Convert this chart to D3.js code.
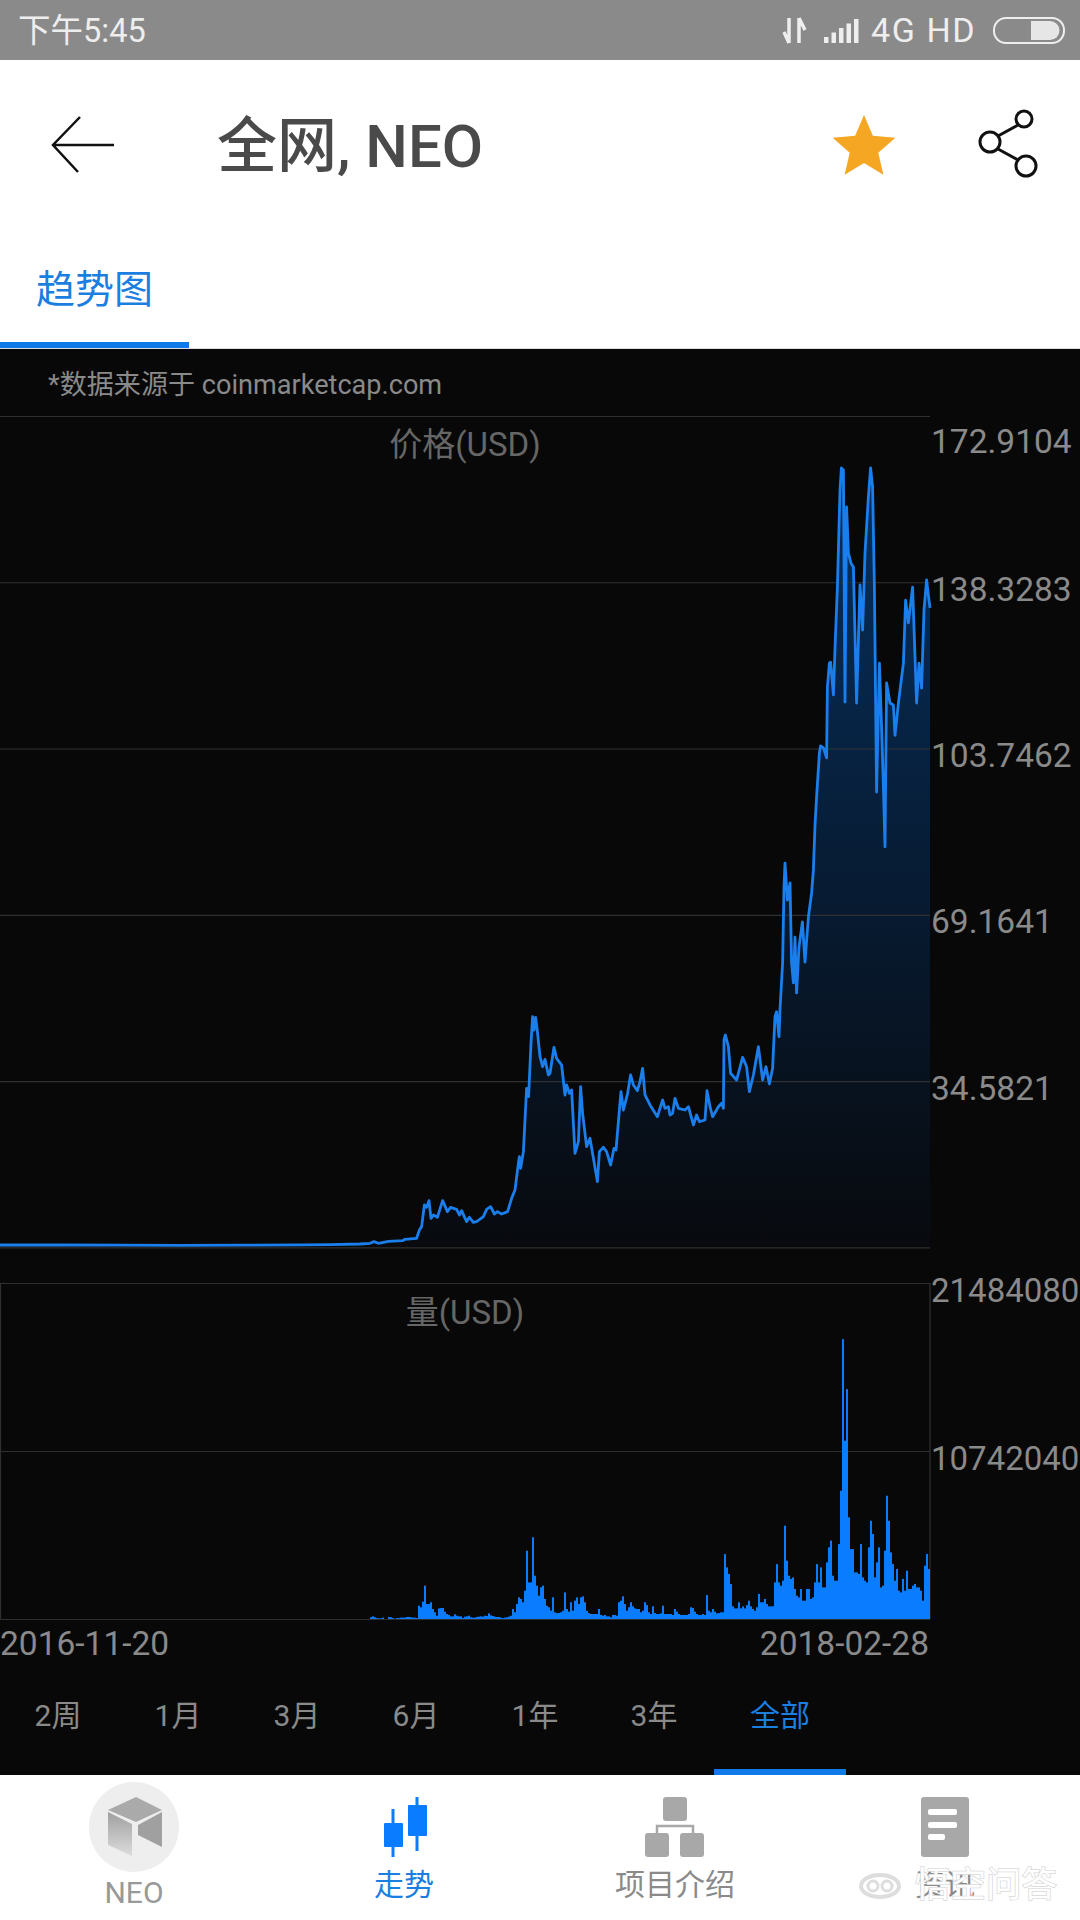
<!DOCTYPE html>
<html lang="zh">
	<head>
		<meta charset="UTF-8" />
		<title>全网, NEO</title>
		<script src="https://d3js.org/d3.v7.min.js"></script>
		<style>
			html,
			body {
				margin: 0;
				padding: 0;
				background: #fff;
			}
			svg {
				display: block;
			}
			text {
				font-family: Roboto, "Noto Sans CJK SC", sans-serif;
			}
		</style>
	</head>
	<body>
		<svg id="app"></svg>

		<script>
			// Data: days since 2016-11-20
			const PRICE_DAYS = [
				0, 30, 60, 90, 120, 150, 165, 180, 185, 187, 189.2, 194.2, 201.3, 202.5, 208.3, 209.7, 210.8, 212.2, 213.3, 214.5,
				215.5, 216.7, 218.7, 221.3, 223.7, 225.3, 228.3, 229.7, 230.8, 233.3, 234.7, 236.7, 238.3, 241.7, 243.3, 245.3,
				247.2, 248.7, 250.8, 253.8, 255.8, 257.5, 259.2, 259.7, 260.3, 261.7, 263.3, 264.3, 265.5, 266.3, 267, 267.8,
				268.7, 270, 271.3, 272.5, 274.2, 275, 277, 278.3, 280.8, 282.5, 283.3, 284.7, 285.8, 287.5, 289.2, 290.3, 291.3,
				293.3, 295, 298.7, 299.7, 301.7, 303.3, 305.3, 307, 308, 309.7, 310.5, 311.7, 313.8, 315.3, 316.7, 318.7, 320,
				321.3, 322.5, 325, 328.7, 331.3, 332.5, 334.2, 335, 336.3, 337.5, 339.2, 342.5, 344.2, 346.7, 348.3, 349.7, 352.5,
				353.5, 355, 356.3, 359.2, 360.8, 361.7, 362, 362.7, 364.2, 365.3, 368.3, 371.3, 373.3, 374.7, 376.7, 379.2, 381.3,
				383, 384.7, 386.3, 387.5, 388.3, 389.5, 390, 391.3, 392, 392.5, 393.7, 395, 395.8, 396.7, 397.5, 398.3, 399.5,
				401.2, 402.5, 404.2, 405.8, 406.7, 407.5, 408.3, 409.7, 410.3, 411.7, 413.3, 413.7, 414.7, 415.3, 416.7, 417.7,
				418.7, 420, 420.7, 421.7, 422.5, 423.3, 424.2, 425.5, 426.7, 428.3, 430, 431.3, 432.5, 434.2, 435.3, 436.3, 437.2,
				438.3, 439.7, 440.8, 441.7, 442.5, 443.3, 445, 446.7, 447.5, 449.2, 451.7, 452.8, 454.2, 456.3, 458.3, 459.5,
				460.8, 462, 463.3, 464.5, 465,
			];
			const PRICE_VALUES = [
				0.48, 0.48, 0.44, 0.42, 0.46, 0.5, 0.55, 0.69, 0.83, 1.18, 0.83, 1.25, 1.38, 1.66, 1.87, 3.6, 4.3, 8.8, 8.32, 9.7,
				6.03, 6.72, 6.24, 9.7, 7.42, 8.32, 7.9, 6.72, 7.62, 5.34, 6.24, 5.2, 5.34, 6.38, 7.9, 8.46,
				6.93, 7.42, 6.93, 7.42, 10.19, 11.92, 17.47, 18.86, 16.43, 19.9, 33.07, 31.33, 42.43, 47.97, 45.2, 47.84,
				44.85, 39.65, 37.57, 39.1, 35.84, 36.19, 41.6, 39.31, 37.92, 31.68, 33.76, 32.03, 32.72, 19.55, 21.97, 33.41, 27.87,
				20.94, 22.67, 13.66, 19.9, 20.8, 19.9, 17.12, 20.59, 20.24, 28.56, 32.37, 28.56, 32.03, 35.84, 33.76, 32.58, 34.45,
				37.23, 31.68, 29.6, 27.17, 30.64, 28.91, 29.25, 27.52, 27.87, 30.99, 28.91, 28.56, 29.25, 25.44, 27.52, 26.13, 26.48,
				32.58, 29.25, 27.17, 29.25, 29.95, 28.91, 43.12, 44.16, 41.73, 36.19, 34.8, 39.52, 37.57, 32.37, 35.84, 41.73, 34.8,
				37.57, 33.97, 37.23, 47.97, 49, 43.81, 49.4, 59.1, 74.9, 79.9, 72.2, 75.8, 59.1, 55, 64.5, 52.9, 62.5,
				67.7, 59.3, 68.7, 73.7, 78.5, 87.8, 93.7, 102.8, 104.3, 103.9, 101.8, 116.5, 121.5, 121.7, 114.9, 126.9,
				137.3, 157.5, 162.1, 161.7, 113.4, 154, 144.4, 142.3, 141.5, 113.2, 137.8, 128.4, 144.4, 156.1, 162.1, 158.1, 137.3,
				94.7, 121.5, 108.2, 95.7, 83.3, 117.4, 113.2, 112.8, 106.5, 113.2, 121.5, 134.6, 129.9, 137.3, 113.2, 121.5,
				116.3, 132.6, 138.8, 134.6, 133,
			];
			// Daily volume in millions of USD, one value per day from VOLUME_START_DAY
			const VOLUME_START_DAY = 185;
			const VOLUME_VALUES = [
				0.11, 0.17, 0.11, 0.06, 0.04, 0.04, 0.09, 0, 0, 0.13, 0.11, 0.06, 0.02, 0.06, 0.06, 0.09, 0.09, 0.09, 0.13, 0.13,
				0.11, 0.09, 0.09, 0.06, 0.85, 0.75, 1.11, 2.13, 0.96, 0.96, 1.07, 0.64, 0.43, 0.21, 0.68, 0.7, 0.7, 0.47, 0.32, 0.26,
				0.17, 0.17, 0.3, 0.21, 0.17, 0.17, 0.06, 0.15, 0.17, 0.21, 0.11, 0.09, 0.09, 0.13, 0.15, 0.17, 0.15, 0.21, 0.19, 0.36,
				0.23, 0.19, 0.15, 0.13, 0.13, 0.09, 0.06, 0.09, 0.11, 0.15, 0.21, 0.64, 0.43, 0.96, 1.38, 1.28, 1.07, 1.81, 4.37, 2.34,
				2.34, 5.22, 2.77, 2.13, 1.49, 2.02, 2.13, 1.28, 0.85, 0.75, 0.53, 1.38, 0.43, 0.38, 0.38, 0.43, 0.53, 1.7, 0.64, 0.47,
				1.07, 0.53, 1.17, 1.38, 0.96, 1.38, 1.45, 1.07, 0.53, 0.38, 0.32, 0.32, 0.32, 0.32, 0.64, 0.26, 0.21, 0.26, 0.17, 0.17,
				0.11, 0.26, 0.26, 0.21, 1.07, 1.17, 1.45, 0.96, 0.53, 0.75, 1.07, 0.81, 0.68, 0.64, 0.64, 0.43, 0.53, 1.07, 0.89, 0.43,
				0.32, 0.81, 0.38, 0.32, 0.32, 0.36, 0.85, 0.32, 0.32, 0.32, 0.32, 0.26, 0.64, 0.47, 0.32, 0.26, 0.26, 0.26, 0.26, 0.32,
				0.75, 0.7, 0.47, 0.32, 0.26, 0.26, 0.32, 0.26, 1.53, 0.53, 0.43, 0.64, 0.47, 0.36, 0.38,
				0.43, 0.43, 4.15, 3.3, 2.88, 2.24, 0.81, 0.68, 0.68, 1.07, 0.68, 0.81, 0.68, 0.89, 1.17, 0.81, 0.64, 0.53, 0.75, 1.6,
				1.07, 1.07, 1.28, 0.96, 0.81, 0.81, 0.81, 2.34, 3.51, 2.34, 2.13, 2.45, 5.96, 3.73, 2.77, 2.56, 2.66, 1.92, 1.49, 1.38,
				1.92, 1.17, 1.17, 1.92, 1.92, 1.28, 1.38, 2.34, 3.51, 2.34, 3.3, 2.02, 2.02, 3.62, 4.58, 5.01, 2.77, 2.45, 2.45, 4.79,
				8.2, 17.89, 11.4, 14.7, 6.5, 4.47, 4.47, 2.98, 2.98, 2.88, 4.79, 2.66, 2.45, 2.34, 4.58, 6.28, 5.43, 2.66, 3.62, 4.58,
				2.02, 2.13, 4.37, 7.88, 6.28, 4.26, 3.51, 2.45, 3.2, 1.81, 1.7, 2.56, 1.81, 3.09, 1.92, 1.92, 2.13, 2.24, 2.02, 2.02,
				1.81, 1.17, 3.41, 4.15, 3.2,
			];

			const TOTAL_DAYS = 465;
			const PRICE_TICKS = [172.9104, 138.3283, 103.7462, 69.1641, 34.5821, 0];
			const PRICE_LABELS = ["172.9104", "138.3283", "103.7462", "69.1641", "34.5821", ""];
			const VOLUME_TICKS = [21.48408, 10.74204, 0];
			const VOLUME_LABELS = ["21484080", "10742040", ""];
			const DATE_LABELS = ["2016-11-20", "2018-02-28"];
			const RANGE_LABELS = ["2周", "1月", "3月", "6月", "1年", "3年", "全部"];
			const NAV_LABELS = ["NEO", "走势", "项目介绍"];

			// Define constants
			const WIDTH = 1080;
			const HEIGHT = 1920;
			const CHART_WIDTH = 930;
			const PRICE_TOP = 416;
			const PRICE_BOTTOM = 1247.3;
			const VOLUME_TOP = 1283;
			const VOLUME_BOTTOM = 1619;
			const BLUE = "#1a7fec";
			const GREY_TEXT = "#8a8a8a";
			const GRID = "#303030";

			const svg = d3.select("#app").attr("width", WIDTH).attr("height", HEIGHT).attr("viewBox", `0 0 ${WIDTH} ${HEIGHT}`);

			function addText(parent, str, x, y, size, fill, anchor = "start", weight = 400) {
				return parent
					.append("text")
					.text(str)
					.attr("x", x)
					.attr("y", y)
					.attr("font-size", size)
					.attr("fill", fill)
					.attr("text-anchor", anchor)
					.attr("font-weight", weight);
			}

			// Backgrounds
			svg.append("rect").attr("width", WIDTH).attr("height", 60).attr("fill", "#8a8a8a");
			svg.append("rect").attr("y", 349).attr("width", WIDTH).attr("height", 1426).attr("fill", "#080808");
			svg.append("rect").attr("y", 348).attr("width", WIDTH).attr("height", 1).attr("fill", "#ddd");

			// Status bar
			const status = svg.append("g");
			addText(status, "下午5:45", 18, 42, 32.5, "#eee");
			addText(status, "4G HD", 871, 42, 34, "#eee").attr("letter-spacing", 1.6);
			status.append("path").attr("d", "M789 18V43M784 32l5 11M799 43V18M799 18l6 12").attr("stroke", "#eee").attr("stroke-width", 3.5).attr("fill", "none");
			d3.range(5).forEach((i) => {
				status
					.append("rect")
					.attr("x", 824 + i * 7.5)
					.attr("y", 37 - i * 4.5)
					.attr("width", 4.5)
					.attr("height", 6 + i * 4.5)
					.attr("fill", "#eee");
			});
			status.append("rect").attr("x", 994).attr("y", 18).attr("width", 70).attr("height", 25).attr("rx", 12).attr("fill", "none").attr("stroke", "#eee").attr("stroke-width", 2);
			status.append("path").attr("d", "M1031 21H1050a9.5 9.5 0 0 1 0 19H1031Z").attr("fill", "#e6e6e6");

			// Header
			const header = svg.append("g");
			header.append("path").attr("d", "M114 145H53M80 117L53 145L78 172").attr("stroke", "#111").attr("stroke-width", 2.5).attr("fill", "none");
			addText(header, "全网, NEO", 217, 167, 60, "#4a4a4a", "start", 500);
			const starPoints = d3.range(10).map((i) => {
				const radius = i % 2 ? 15 : 33;
				const angle = (i * Math.PI) / 5;
				return [864 + radius * Math.sin(angle), 148 - radius * Math.cos(angle)];
			});
			header.append("path").attr("d", d3.line()(starPoints) + "Z").attr("fill", "#f5a623");
			const shareCircles = [[1024, 119, 8], [990, 142, 10], [1026, 166, 10]];
			header.append("path").attr("d", "M1018 125L998 136M998 149L1018 160").attr("stroke", "#111").attr("stroke-width", 3);
			shareCircles.forEach((c) => {
				header.append("circle").attr("cx", c[0]).attr("cy", c[1]).attr("r", c[2]).attr("fill", "#fff").attr("stroke", "#111").attr("stroke-width", 3);
			});
			addText(header, "趋势图", 36, 303, 39, "#1a7fe0");
			header.append("rect").attr("y", 342).attr("width", 189).attr("height", 6).attr("fill", "#0f7ae8");
			addText(svg, "*数据来源于 coinmarketcap.com", 48, 394, 27.1, GREY_TEXT);

			// Create Scales
			const xScale = d3.scaleLinear().domain([0, TOTAL_DAYS]).range([0, CHART_WIDTH]);
			const priceScale = d3.scaleLinear().domain([0, PRICE_TICKS[0]]).range([PRICE_BOTTOM, PRICE_TOP]);
			const volumeScale = d3.scaleLinear().domain([0, VOLUME_TICKS[0]]).range([VOLUME_BOTTOM, VOLUME_TOP]);

			// Price fill
			const priceData = PRICE_DAYS.map((d, i) => [d, PRICE_VALUES[i]]);
			const gradient = svg
				.append("defs")
				.append("linearGradient")
				.attr("id", "priceFill")
				.attr("gradientUnits", "userSpaceOnUse")
				.attr("x1", 0)
				.attr("x2", 0)
				.attr("y1", PRICE_TOP)
				.attr("y2", PRICE_BOTTOM);
			gradient.append("stop").attr("offset", 0).attr("stop-color", "#063263");
			gradient.append("stop").attr("offset", 1).attr("stop-color", "#080a0e");
			svg
				.append("path")
				.attr("fill", "url(#priceFill)")
				.attr(
					"d",
					d3
						.area()
						.x((d) => xScale(d[0]))
						.y0(PRICE_BOTTOM)
						.y1((d) => priceScale(d[1]))(priceData)
				);

			// Create axis
			function drawAxis(scale, ticks, labels, topOffset, fontSize) {
				const axis = svg
					.append("g")
					.attr("transform", `translate(${CHART_WIDTH}, 0)`)
					.call(
						d3
							.axisRight(scale)
							.tickValues(ticks)
							.tickSize(-CHART_WIDTH)
							.tickPadding(1)
							.tickFormat((d, i) => labels[i])
					);
				axis.select(".domain").remove();
				axis.selectAll("line").attr("stroke", GRID).attr("stroke-width", 1.2);
				axis
					.selectAll("text")
					.attr("dy", 0)
					.attr("y", (d, i) => (i === 0 ? topOffset : 18))
					.attr("font-size", fontSize)
					.attr("fill", GREY_TEXT)
					.attr("font-family", 'Roboto, "Noto Sans CJK SC", sans-serif');
			}
			drawAxis(priceScale, PRICE_TICKS, PRICE_LABELS, 36, 33.5);
			drawAxis(volumeScale, VOLUME_TICKS, VOLUME_LABELS, 18, 33);

			addText(svg, "价格(USD)", CHART_WIDTH / 2, 456, 33, "#666", "middle");
			addText(svg, "量(USD)", CHART_WIDTH / 2, 1324, 33, "#666", "middle");

			// Price line
			svg
				.append("path")
				.attr("fill", "none")
				.attr("stroke", BLUE)
				.attr("stroke-width", 2.8)
				.attr("stroke-linejoin", "round")
				.attr(
					"d",
					d3
						.line()
						.x((d) => xScale(d[0]))
						.y((d) => priceScale(d[1]))(priceData)
				);

			// Volume frame
			svg.append("path").attr("d", `M0.5 ${VOLUME_TOP}V${VOLUME_BOTTOM}M${CHART_WIDTH} ${VOLUME_TOP}V${VOLUME_BOTTOM}`).attr("stroke", GRID).attr("stroke-width", 1.2);

			// Volume bars
			svg
				.append("g")
				.selectAll("rect")
				.data(VOLUME_VALUES)
				.enter()
				.append("rect")
				.attr("x", (d, i) => xScale(VOLUME_START_DAY + i))
				.attr("y", (d) => volumeScale(d))
				.attr("width", (d, i) => xScale(VOLUME_START_DAY + i + 1) - xScale(VOLUME_START_DAY + i))
				.attr("height", (d) => VOLUME_BOTTOM - volumeScale(d))
				.attr("fill", "#0a7cff");

			// Dates and range tabs
			addText(svg, DATE_LABELS[0], 0, 1655, 33.5, GREY_TEXT);
			addText(svg, DATE_LABELS[1], 929, 1655, 33.5, GREY_TEXT, "end");
			const rangeCenters = [58, 178, 297, 416, 535, 654, 780];
			RANGE_LABELS.forEach((label, i) => {
				addText(svg, label, rangeCenters[i], 1726, 30, i === 6 ? "#1a7fe0" : GREY_TEXT, "middle");
			});
			svg.append("rect").attr("x", 714).attr("y", 1769).attr("width", 132).attr("height", 6).attr("fill", "#0f7ae8");

			// Bottom navigation
			const nav = svg.append("g");
			const ICON_GREY = "#a8a8a8";
			nav.append("circle").attr("cx", 134).attr("cy", 1827).attr("r", 45).attr("fill", "#eee");
			nav.append("path").attr("d", "M136 1797L162 1810L136 1822L108 1810Z").attr("fill", "#aaa");
			const faceFill = svg.select("defs").append("linearGradient").attr("id", "faceFill").attr("x1", 0).attr("x2", 0).attr("y1", 0).attr("y2", 1);
			faceFill.append("stop").attr("offset", 0).attr("stop-color", "#a0a0a0");
			faceFill.append("stop").attr("offset", 1).attr("stop-color", "#dcdcdc");
			nav.append("path").attr("d", "M108 1812L132 1824V1856L108 1845Z").attr("fill", "url(#faceFill)");
			nav.append("path").attr("d", "M138 1825L162 1812V1847L138 1835Z").attr("fill", "#a0a0a0");
			addText(nav, NAV_LABELS[0], 134, 1903, 30, "#999", "middle");

			nav.append("path").attr("d", "M393 1809V1857M417 1797V1851").attr("stroke", "#0a7cff").attr("stroke-width", 3);
			nav.append("rect").attr("x", 384).attr("y", 1823).attr("width", 19).attr("height", 24).attr("rx", 1).attr("fill", "#0a7cff");
			nav.append("rect").attr("x", 408).attr("y", 1805).attr("width", 19).attr("height", 31).attr("rx", 1).attr("fill", "#0a7cff");
			addText(nav, NAV_LABELS[1], 404, 1895, 30, "#1a7fe0", "middle");

			nav.append("path").attr("d", "M657 1833V1826H693V1833").attr("stroke", ICON_GREY).attr("stroke-width", 2.5).attr("fill", "none");
			[[663, 1797], [645, 1833], [680, 1833]].forEach((p) => {
				nav.append("rect").attr("x", p[0]).attr("y", p[1]).attr("width", 24).attr("height", 24).attr("rx", 3).attr("fill", ICON_GREY);
			});
			addText(nav, NAV_LABELS[2], 675, 1895, 30, GREY_TEXT, "middle");

			nav.append("rect").attr("x", 921).attr("y", 1797).attr("width", 48).attr("height", 60).attr("rx", 3).attr("fill", ICON_GREY);
			[[928, 1809, 29], [928, 1822, 29], [928, 1834, 17]].forEach((b) => {
				nav.append("rect").attr("x", b[0]).attr("y", b[1]).attr("width", b[2]).attr("height", 6).attr("rx", 2).attr("fill", "#fff");
			});
			addText(nav, "资讯", 945, 1895, 30, GREY_TEXT, "middle");

			// Watermark
			const mark = svg.append("g");
			mark.append("ellipse").attr("cx", 880).attr("cy", 1886).attr("rx", 19).attr("ry", 11).attr("fill", "none").attr("stroke", "#ddd").attr("stroke-width", 4);
			mark.append("circle").attr("cx", 873).attr("cy", 1886).attr("r", 5).attr("fill", "none").attr("stroke", "#ddd").attr("stroke-width", 3);
			mark.append("circle").attr("cx", 887).attr("cy", 1886).attr("r", 5).attr("fill", "none").attr("stroke", "#ddd").attr("stroke-width", 3);
			addText(mark, "悟空问答", 915, 1897, 35.5, "#fff").attr("stroke", "#d8d8d8").attr("stroke-width", 1.5).attr("paint-order", "stroke");
		</script>
	</body>
</html>
